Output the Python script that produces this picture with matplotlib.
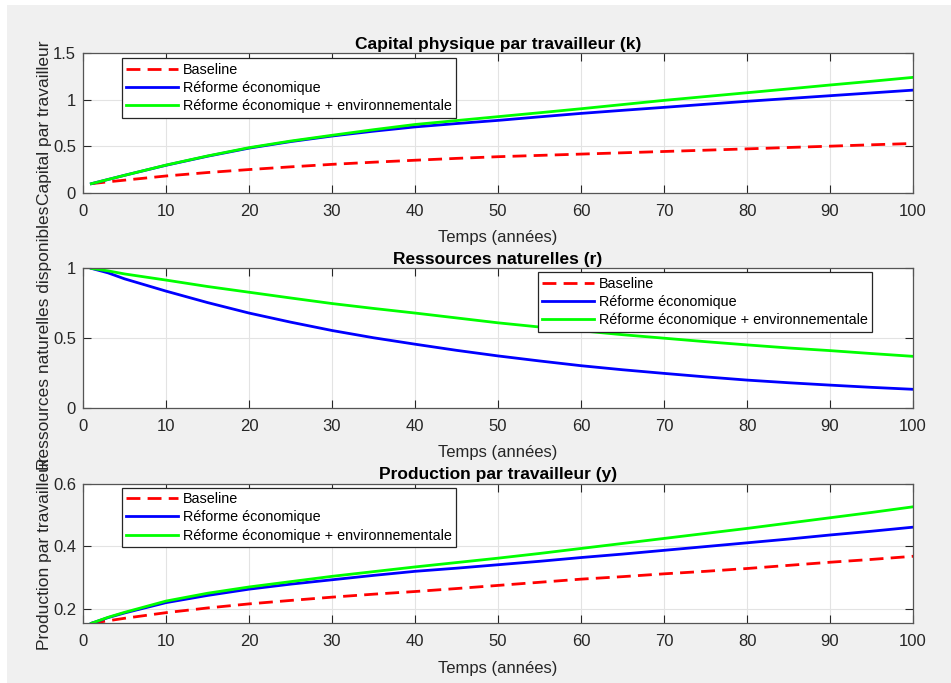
import numpy as np
import matplotlib
matplotlib.use("Agg")
import matplotlib.pyplot as plt
from matplotlib.patches import Rectangle

plt.rcParams['font.family'] = ['Liberation Sans', 'DejaVu Sans']

# values
years = [1, 3, 5, 10, 15, 20, 25, 30, 35, 40, 45, 50, 55, 60, 65, 70, 75, 80, 85, 90, 95, 100]

k_base = [0.100, 0.120, 0.138, 0.183, 0.220, 0.252, 0.281, 0.308, 0.331, 0.352, 0.372,
          0.390, 0.404, 0.418, 0.432, 0.446, 0.460, 0.474, 0.489, 0.503, 0.518, 0.532]
k_eco = [0.100, 0.145, 0.190, 0.298, 0.395, 0.482, 0.552, 0.612, 0.664, 0.710, 0.746,
         0.780, 0.818, 0.855, 0.888, 0.920, 0.953, 0.985, 1.015, 1.045, 1.075, 1.105]
k_env = [0.100, 0.145, 0.190, 0.300, 0.398, 0.487, 0.558, 0.620, 0.680, 0.736, 0.778,
         0.820, 0.862, 0.905, 0.950, 0.995, 1.036, 1.077, 1.118, 1.160, 1.200, 1.242]

r_base = []  # not visible in the chart
r_eco = [1.000, 0.968, 0.925, 0.837, 0.755, 0.680, 0.615, 0.555, 0.503, 0.457, 0.413,
         0.373, 0.337, 0.303, 0.274, 0.248, 0.223, 0.200, 0.181, 0.164, 0.148, 0.134]
r_env = [1.000, 0.982, 0.960, 0.916, 0.870, 0.829, 0.788, 0.748, 0.713, 0.680, 0.645,
         0.610, 0.580, 0.553, 0.525, 0.500, 0.475, 0.452, 0.430, 0.411, 0.390, 0.370]

y_base = [0.154, 0.162, 0.170, 0.188, 0.203, 0.216, 0.227, 0.2375, 0.247, 0.2555, 0.265,
          0.275, 0.285, 0.295, 0.303, 0.312, 0.320, 0.329, 0.339, 0.349, 0.358, 0.368]
y_eco = [0.154, 0.172, 0.187, 0.220, 0.243, 0.263, 0.279, 0.293, 0.307, 0.320, 0.330,
         0.341, 0.352, 0.364, 0.375, 0.387, 0.399, 0.411, 0.423, 0.436, 0.448, 0.461]
y_env = [0.154, 0.173, 0.189, 0.225, 0.250, 0.270, 0.287, 0.304, 0.319, 0.334, 0.348,
         0.362, 0.377, 0.393, 0.409, 0.425, 0.441, 0.457, 0.474, 0.491, 0.508, 0.526]

labels = ['Baseline', 'Réforme économique', 'Réforme économique + environnementale']
titles = ['Capital physique par travailleur (k)', 'Ressources naturelles (r)',
          'Production par travailleur (y)']
ylabels = ['Capital par travailleur', 'Ressources naturelles disponibles',
           'Production par travailleur']
xticks = list(range(0, 101, 10))

panels = [
    (k_base, k_eco, k_env, (0, 1.5), [0, 0.5, 1, 1.5], ['0', '0.5', '1', '1.5'], (0.047, 0.964)),
    (r_base, r_eco, r_env, (0, 1), [0, 0.5, 1], ['0', '0.5', '1'], (0.548, 0.971)),
    (y_base, y_eco, y_env, (0.154, 0.6), [0.2, 0.4, 0.6], ['0.2', '0.4', '0.6'], (0.047, 0.971)),
]

fig = plt.figure(figsize=(9.51, 6.83), dpi=100)
fig.patch.set_facecolor('white')
fig.patches.append(Rectangle((7 / 951, 0), 1, 1 - 5 / 683, transform=fig.transFigure,
                             facecolor='#f0f0f0', edgecolor='none', zorder=-10))

bottoms = [0.7174, 0.4026, 0.0874]
axc = '#262626'
dash = (0, (5, 2.6))
for i, (b, e, v, ylim, yt, ytl, leg) in enumerate(panels):
    ax = fig.add_axes([0.0873, bottoms[i], 0.8728, 0.2045])
    ax.plot(years[:len(b)], b, color='#ff0000', lw=2, ls=dash, label=labels[0])
    ax.plot(years, e, color='#0000ff', lw=2, label=labels[1])
    ax.plot(years, v, color='#00ff00', lw=2, label=labels[2])
    ax.set_xlim(0, 100)
    ax.set_ylim(*ylim)
    ax.set_xticks(xticks)
    ax.set_yticks(yt)
    ax.set_yticklabels(ytl)
    ax.grid(True, color='#e3e3e3', lw=0.8)
    ax.set_axisbelow(True)
    ax.tick_params(direction='in', length=6, width=0.8, top=True, right=True,
                   labelsize=12, colors=axc, pad=5)
    ax.tick_params(axis='x', pad=8)
    for s in ax.spines.values():
        s.set_color('#555555')
        s.set_linewidth(0.9)
    ax.set_title(titles[i], fontsize=12.5, fontweight='bold', pad=3, color='black')
    ax.set_xlabel('Temps (années)', fontsize=12, color=axc, labelpad=8)
    ax.set_ylabel(ylabels[i], fontsize=12.5, color=axc)
    ax.yaxis.set_label_coords(-0.037, 0.5)
    lg = ax.legend(loc='upper left', bbox_to_anchor=leg, borderaxespad=0, fontsize=10.4,
                   fancybox=False, framealpha=1, edgecolor='#262626', handlelength=3.6,
                   handletextpad=0.3, labelspacing=0.3, borderpad=0.3)
    lg.get_frame().set_linewidth(0.9)

fig.savefig('out.png', dpi=100, facecolor=fig.get_facecolor())
